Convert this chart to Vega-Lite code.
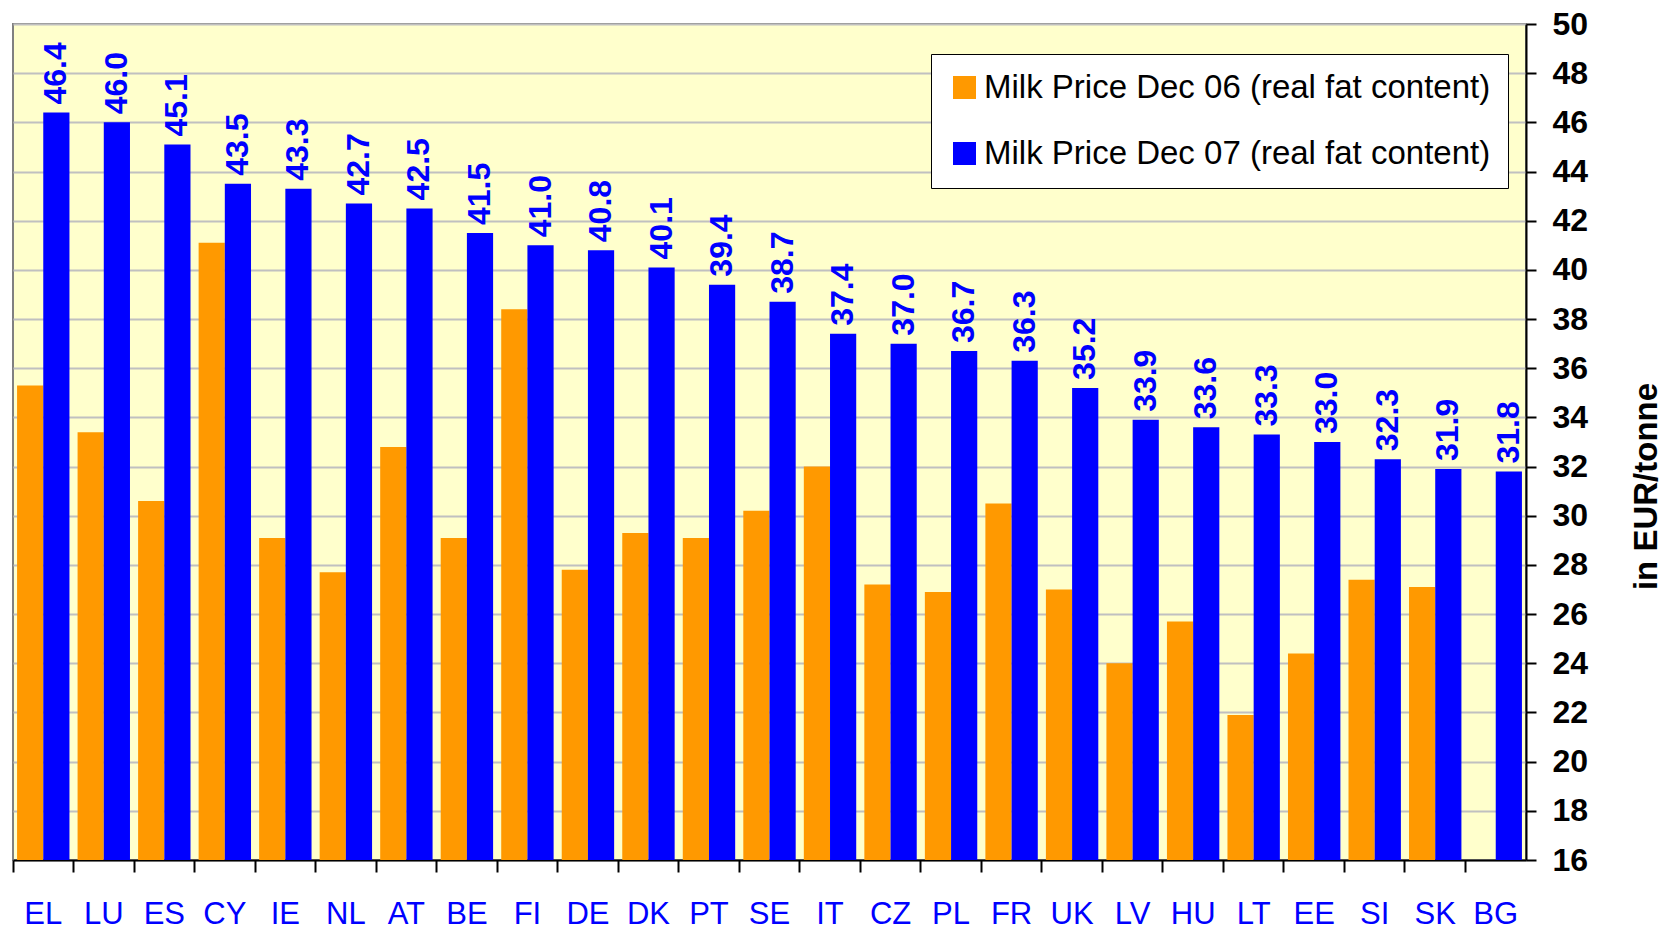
{
  "$schema": "https://vega.github.io/schema/vega-lite/v6.json",
  "width": 1513,
  "height": 836,
  "autosize": {"type": "none"},
  "padding": {"left": 13, "top": 24, "right": 140, "bottom": 75},
  "background": "white",
  "config": {
    "view": {"stroke": "#808080", "strokeWidth": 2, "fill": "#FFFFCC"}
  },
  "data": {
    "values": [
      {"country": "EL", "series": "Milk Price Dec 06 (real fat content)", "price": 35.3},
      {"country": "EL", "series": "Milk Price Dec 07 (real fat content)", "price": 46.4},
      {"country": "LU", "series": "Milk Price Dec 06 (real fat content)", "price": 33.4},
      {"country": "LU", "series": "Milk Price Dec 07 (real fat content)", "price": 46.0},
      {"country": "ES", "series": "Milk Price Dec 06 (real fat content)", "price": 30.6},
      {"country": "ES", "series": "Milk Price Dec 07 (real fat content)", "price": 45.1},
      {"country": "CY", "series": "Milk Price Dec 06 (real fat content)", "price": 41.1},
      {"country": "CY", "series": "Milk Price Dec 07 (real fat content)", "price": 43.5},
      {"country": "IE", "series": "Milk Price Dec 06 (real fat content)", "price": 29.1},
      {"country": "IE", "series": "Milk Price Dec 07 (real fat content)", "price": 43.3},
      {"country": "NL", "series": "Milk Price Dec 06 (real fat content)", "price": 27.7},
      {"country": "NL", "series": "Milk Price Dec 07 (real fat content)", "price": 42.7},
      {"country": "AT", "series": "Milk Price Dec 06 (real fat content)", "price": 32.8},
      {"country": "AT", "series": "Milk Price Dec 07 (real fat content)", "price": 42.5},
      {"country": "BE", "series": "Milk Price Dec 06 (real fat content)", "price": 29.1},
      {"country": "BE", "series": "Milk Price Dec 07 (real fat content)", "price": 41.5},
      {"country": "FI", "series": "Milk Price Dec 06 (real fat content)", "price": 38.4},
      {"country": "FI", "series": "Milk Price Dec 07 (real fat content)", "price": 41.0},
      {"country": "DE", "series": "Milk Price Dec 06 (real fat content)", "price": 27.8},
      {"country": "DE", "series": "Milk Price Dec 07 (real fat content)", "price": 40.8},
      {"country": "DK", "series": "Milk Price Dec 06 (real fat content)", "price": 29.3},
      {"country": "DK", "series": "Milk Price Dec 07 (real fat content)", "price": 40.1},
      {"country": "PT", "series": "Milk Price Dec 06 (real fat content)", "price": 29.1},
      {"country": "PT", "series": "Milk Price Dec 07 (real fat content)", "price": 39.4},
      {"country": "SE", "series": "Milk Price Dec 06 (real fat content)", "price": 30.2},
      {"country": "SE", "series": "Milk Price Dec 07 (real fat content)", "price": 38.7},
      {"country": "IT", "series": "Milk Price Dec 06 (real fat content)", "price": 32.0},
      {"country": "IT", "series": "Milk Price Dec 07 (real fat content)", "price": 37.4},
      {"country": "CZ", "series": "Milk Price Dec 06 (real fat content)", "price": 27.2},
      {"country": "CZ", "series": "Milk Price Dec 07 (real fat content)", "price": 37.0},
      {"country": "PL", "series": "Milk Price Dec 06 (real fat content)", "price": 26.9},
      {"country": "PL", "series": "Milk Price Dec 07 (real fat content)", "price": 36.7},
      {"country": "FR", "series": "Milk Price Dec 06 (real fat content)", "price": 30.5},
      {"country": "FR", "series": "Milk Price Dec 07 (real fat content)", "price": 36.3},
      {"country": "UK", "series": "Milk Price Dec 06 (real fat content)", "price": 27.0},
      {"country": "UK", "series": "Milk Price Dec 07 (real fat content)", "price": 35.2},
      {"country": "LV", "series": "Milk Price Dec 06 (real fat content)", "price": 24.0},
      {"country": "LV", "series": "Milk Price Dec 07 (real fat content)", "price": 33.9},
      {"country": "HU", "series": "Milk Price Dec 06 (real fat content)", "price": 25.7},
      {"country": "HU", "series": "Milk Price Dec 07 (real fat content)", "price": 33.6},
      {"country": "LT", "series": "Milk Price Dec 06 (real fat content)", "price": 21.9},
      {"country": "LT", "series": "Milk Price Dec 07 (real fat content)", "price": 33.3},
      {"country": "EE", "series": "Milk Price Dec 06 (real fat content)", "price": 24.4},
      {"country": "EE", "series": "Milk Price Dec 07 (real fat content)", "price": 33.0},
      {"country": "SI", "series": "Milk Price Dec 06 (real fat content)", "price": 27.4},
      {"country": "SI", "series": "Milk Price Dec 07 (real fat content)", "price": 32.3},
      {"country": "SK", "series": "Milk Price Dec 06 (real fat content)", "price": 27.1},
      {"country": "SK", "series": "Milk Price Dec 07 (real fat content)", "price": 31.9},
      {"country": "BG", "series": "Milk Price Dec 07 (real fat content)", "price": 31.8}
    ]
  },
  "encoding": {
    "x": {
      "field": "country",
      "type": "nominal",
      "sort": null,
      "scale": {"paddingInner": 0, "paddingOuter": 0},
      "axis": {
        "title": null,
        "labelAngle": 0,
        "bandPosition": 0,
        "domainColor": "black",
        "domainWidth": 2,
        "tickColor": "black",
        "tickWidth": 2,
        "tickSize": 12,
        "labelPadding": 27,
        "labelFont": "Liberation Sans",
        "labelFontSize": 31,
        "labelColor": "#0000FF",
        "labelBaseline": "top",
        "grid": false
      }
    },
    "xOffset": {
      "field": "series",
      "type": "nominal",
      "scale": {"paddingInner": 0, "paddingOuter": 0.155}
    },
    "y": {
      "field": "price",
      "type": "quantitative",
      "scale": {"domain": [16, 50], "nice": false, "zero": false},
      "axis": {
        "orient": "right",
        "title": "in EUR/tonne",
        "values": [16, 18, 20, 22, 24, 26, 28, 30, 32, 34, 36, 38, 40, 42, 44, 46, 48, 50],
        "grid": true,
        "gridColor": "#C0C0C0",
        "gridWidth": 2,
        "domainColor": "black",
        "domainWidth": 2,
        "tickColor": "black",
        "tickWidth": 2,
        "tickSize": 10,
        "labelPadding": 16,
        "labelFont": "Liberation Sans",
        "labelFontWeight": "bold",
        "labelFontSize": 32,
        "labelColor": "black",
        "titleFont": "Liberation Sans",
        "titleFontWeight": "bold",
        "titleFontSize": 33,
        "titleColor": "black",
        "titleAngle": 270,
        "titleX": 120,
        "titleY": 462,
        "titleAlign": "center",
        "titleBaseline": "middle"
      }
    }
  },
  "layer": [
    {
      "mark": {"type": "bar", "clip": true},
      "encoding": {
        "color": {
          "field": "series",
          "type": "nominal",
          "scale": {
            "domain": ["Milk Price Dec 06 (real fat content)", "Milk Price Dec 07 (real fat content)"],
            "range": ["#FF9900", "#0000FF"]
          },
          "legend": {
            "title": null,
            "orient": "none",
            "legendX": 918,
            "legendY": 30,
            "fillColor": "white",
            "strokeColor": "black",
            "padding": 17,
            "rowPadding": 32,
            "symbolType": "square",
            "symbolSize": 529,
            "symbolOpacity": 1,
            "labelFont": "Liberation Sans",
            "labelFontSize": 33,
            "labelColor": "black",
            "labelOffset": 3,
            "labelLimit": 800
          }
        }
      }
    },
    {
      "transform": [{"filter": "datum.series === 'Milk Price Dec 07 (real fat content)'"}],
      "mark": {
        "type": "text",
        "angle": 270,
        "align": "left",
        "baseline": "middle",
        "dx": 8,
        "font": "Liberation Sans",
        "fontWeight": "bold",
        "fontSize": 32,
        "color": "#0000FF"
      },
      "encoding": {
        "text": {"field": "price", "type": "quantitative", "format": ".1f"}
      }
    }
  ]
}
